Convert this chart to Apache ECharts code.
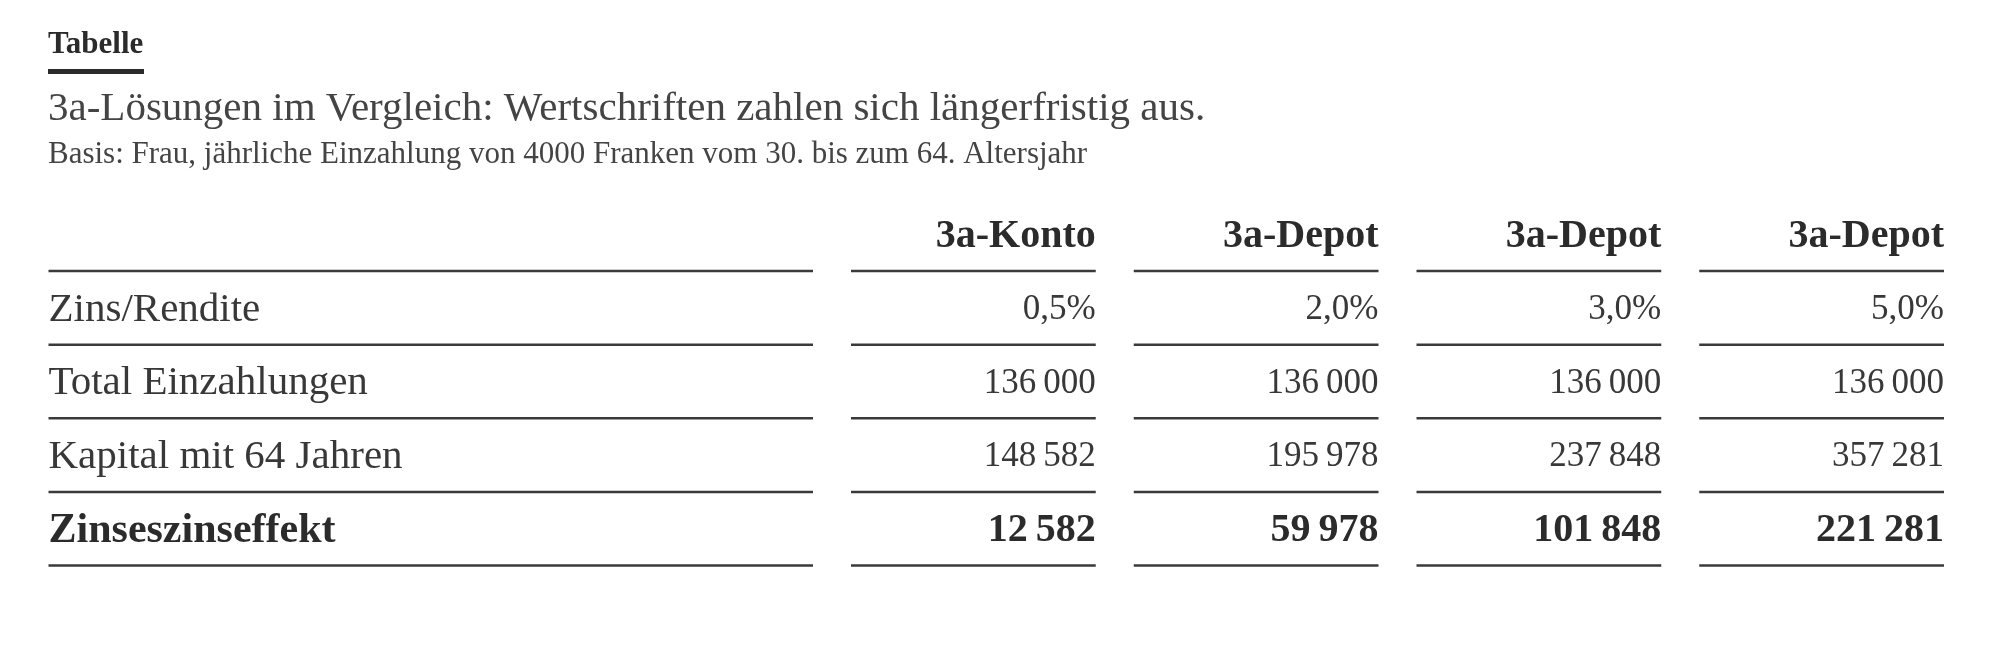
<!DOCTYPE html>
<html>
<head>
<meta charset="utf-8">
<script src="https://cdn.jsdelivr.net/npm/echarts@6/dist/echarts.min.js"></script>
<style>
  html, body { margin: 0; padding: 0; background: #fff; }
  #main { width: 2000px; height: 664px; }
</style>
</head>
<body>
<div id="main"></div>
<script>
// Daten der Tabelle
var kicker = 'Tabelle';
var titel = '3a-Lösungen im Vergleich: Wertschriften zahlen sich längerfristig aus.';
var basis = 'Basis: Frau, jährliche Einzahlung von 4000 Franken vom 30. bis zum 64. Altersjahr';

var columns = ['3a-Konto', '3a-Depot', '3a-Depot', '3a-Depot'];
var rowLabels = ['Zins/Rendite', 'Total Einzahlungen', 'Kapital mit 64 Jahren', 'Zinseszinseffekt'];
var rendite = [0.5, 2.0, 3.0, 5.0];
var einzahlungen = [136000, 136000, 136000, 136000];
var kapital = [148582, 195978, 237848, 357281];
var zinseszins = [12582, 59978, 101848, 221281];

var FONT = '"Liberation Serif", serif';
var LINE_COLOR = '#3a3a3a';
var GAP = 38;

function fmtZahl(v) {
    return String(v).replace(/\B(?=(\d{3})+(?!\d))/g, '\u2009');
}
function fmtProzent(v) {
    return v.toFixed(1).replace('.', ',') + '%';
}

// Zellen der Wertspalten: [spalte, zeile], Zeile 0 = Kopfzeile
var valueCells = [];
var valueTexts = [];
columns.forEach(function (c, i) {
    valueCells.push([i, 0]); valueTexts.push(c);
    valueCells.push([i, 1]); valueTexts.push(fmtProzent(rendite[i]));
    valueCells.push([i, 2]); valueTexts.push(fmtZahl(einzahlungen[i]));
    valueCells.push([i, 3]); valueTexts.push(fmtZahl(kapital[i]));
    valueCells.push([i, 4]); valueTexts.push(fmtZahl(zinseszins[i]));
});

var labelCells = [[0, 0]];
var labelTexts = [''];
rowLabels.forEach(function (r, j) {
    labelCells.push([0, j + 1]);
    labelTexts.push(r);
});

var lastRow = rowLabels.length;

function cellStyle(row, isLabel) {
    if (row === 0) return { font: 'bold 40px ' + FONT, fill: '#2b2b2b' };
    if (row === lastRow) return { font: (isLabel ? 'bold 42px ' : 'bold 40px ') + FONT, fill: '#2b2b2b' };
    return { font: (isLabel ? '41px ' : '35px ') + FONT, fill: '#383838' };
}

function makeRender(texts, isLabel) {
    return function (params, api) {
        var col = api.value(0), row = api.value(1);
        var c = api.coord([col, row]);
        var s = api.size([1, 1]);
        var half = (s[0] - GAP) / 2;
        var bottom = c[1] + s[1] / 2;
        var st = cellStyle(row, isLabel);
        return {
            type: 'group',
            children: [
                {
                    type: 'line',
                    shape: { x1: c[0] - half, y1: bottom, x2: c[0] + half, y2: bottom },
                    style: { stroke: LINE_COLOR, lineWidth: 2.5 }
                },
                {
                    type: 'text',
                    style: {
                        text: texts[params.dataIndex],
                        x: isLabel ? c[0] - half : c[0] + half,
                        y: c[1] + 2,
                        align: isLabel ? 'left' : 'right',
                        verticalAlign: 'middle',
                        font: st.font,
                        fill: st.fill
                    }
                }
            ]
        };
    };
}

var myChart = echarts.init(document.getElementById('main'));

var rowIdx = [0, 1, 2, 3, 4];

option = {
    backgroundColor: '#fff',
    animation: false,
    title: [
        {
            text: kicker, left: 48, top: 29, padding: 0,
            textStyle: { fontFamily: FONT, fontWeight: 'bold', fontSize: 31, color: '#2b2b2b' }
        },
        {
            text: titel, left: 48, top: 89, padding: 0,
            textStyle: { fontFamily: FONT, fontWeight: 'normal', fontSize: 41, color: '#444' }
        },
        {
            text: basis, left: 48, top: 139, padding: 0,
            textStyle: { fontFamily: FONT, fontWeight: 'normal', fontSize: 31, color: '#444' }
        }
    ],
    graphic: [
        { type: 'rect', left: 48, top: 69, shape: { width: 96, height: 5 }, style: { fill: '#2b2b2b' } }
    ],
    grid: [
        { left: 29.5, width: 802.5, top: 197.5, height: 368 },
        { left: 832, width: 1131, top: 197.5, height: 368 }
    ],
    xAxis: [
        { type: 'category', gridIndex: 0, data: [0], show: false },
        { type: 'category', gridIndex: 1, data: columns.map(function (c, i) { return i; }), show: false }
    ],
    yAxis: [
        { type: 'category', gridIndex: 0, data: rowIdx, inverse: true, show: false },
        { type: 'category', gridIndex: 1, data: rowIdx, inverse: true, show: false }
    ],
    series: [
        {
            type: 'custom', xAxisIndex: 0, yAxisIndex: 0,
            data: labelCells, renderItem: makeRender(labelTexts, true)
        },
        {
            type: 'custom', xAxisIndex: 1, yAxisIndex: 1,
            data: valueCells, renderItem: makeRender(valueTexts, false)
        }
    ]
};

myChart.setOption(option);
</script>
</body>
</html>
